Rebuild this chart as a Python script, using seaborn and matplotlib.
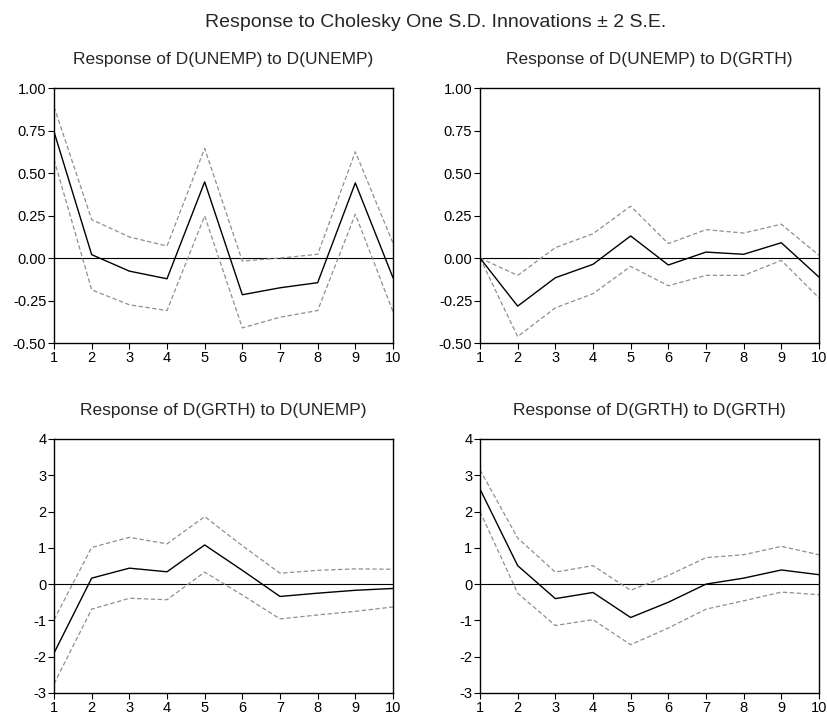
import numpy as np
import pandas as pd
import matplotlib
matplotlib.use("Agg")
import matplotlib.pyplot as plt
import seaborn as sns

sns.set_theme(style="ticks")
plt.rcParams["font.family"] = ["Liberation Sans", "DejaVu Sans"]

# ── Data ────────────────────────────────────────────────────────────────────
steps = list(range(1, 11))

unemp_unemp = [0.743, 0.020, -0.077, -0.122, 0.448, -0.216, -0.175, -0.145, 0.442, -0.116]
unemp_unemp_hi = [0.890, 0.226, 0.124, 0.071, 0.645, -0.018, 0.000, 0.022, 0.625, 0.088]
unemp_unemp_lo = [0.580, -0.187, -0.275, -0.309, 0.248, -0.411, -0.348, -0.309, 0.258, -0.315]

unemp_grth = [0.0, -0.283, -0.116, -0.037, 0.130, -0.041, 0.035, 0.022, 0.090, -0.112]
unemp_grth_hi = [0.0, -0.102, 0.061, 0.143, 0.305, 0.085, 0.167, 0.147, 0.199, 0.016]
unemp_grth_lo = [0.0, -0.462, -0.293, -0.210, -0.049, -0.163, -0.102, -0.102, -0.014, -0.234]

grth_unemp = [-1.90, 0.165, 0.44, 0.34, 1.08, 0.38, -0.34, -0.25, -0.17, -0.12]
grth_unemp_hi = [-0.98, 1.01, 1.29, 1.11, 1.86, 1.06, 0.30, 0.38, 0.42, 0.41]
grth_unemp_lo = [-2.75, -0.69, -0.39, -0.43, 0.33, -0.30, -0.96, -0.85, -0.75, -0.63]

grth_grth = [2.62, 0.51, -0.40, -0.23, -0.92, -0.50, 0.0, 0.165, 0.39, 0.26]
grth_grth_hi = [3.15, 1.27, 0.33, 0.51, -0.17, 0.24, 0.73, 0.81, 1.04, 0.81]
grth_grth_lo = [2.00, -0.25, -1.14, -0.98, -1.67, -1.21, -0.69, -0.46, -0.22, -0.29]

titles = [
    "Response of D(UNEMP) to D(UNEMP)",
    "Response of D(UNEMP) to D(GRTH)",
    "Response of D(GRTH) to D(UNEMP)",
    "Response of D(GRTH) to D(GRTH)",
]
yticks_unemp = [-0.50, -0.25, 0.00, 0.25, 0.50, 0.75, 1.00]
yticks_grth = [-3, -2, -1, 0, 1, 2, 3, 4]

panels = [
    (unemp_unemp, unemp_unemp_hi, unemp_unemp_lo, yticks_unemp, "%.2f"),
    (unemp_grth, unemp_grth_hi, unemp_grth_lo, yticks_unemp, "%.2f"),
    (grth_unemp, grth_unemp_hi, grth_unemp_lo, yticks_grth, "%d"),
    (grth_grth, grth_grth_hi, grth_grth_lo, yticks_grth, "%d"),
]

# ── Figure ──────────────────────────────────────────────────────────────────
fig = plt.figure(figsize=(8.27, 7.13), dpi=100)
positions = [
    [0.0653, 0.5189, 0.4099, 0.3576],
    [0.5804, 0.5189, 0.4099, 0.3576],
    [0.0653, 0.0281, 0.4099, 0.3562],
    [0.5804, 0.0281, 0.4099, 0.3562],
]

for pos, title, (mid, hi, lo, yt, fmt) in zip(positions, titles, panels):
    ax = fig.add_axes(pos)
    df = pd.DataFrame({"step": steps, "mid": mid, "hi": hi, "lo": lo})

    ax.axhline(0, color="black", lw=0.8, zorder=1)
    for col in ["hi", "lo"]:
        sns.lineplot(data=df, x="step", y=col, ax=ax, color="#8f8f8f",
                     lw=0.9, linestyle=(0, (3.5, 2)), zorder=2)
    sns.lineplot(data=df, x="step", y="mid", ax=ax, color="black", lw=1.0, zorder=3)

    ax.set_xlim(1, 10)
    ax.set_ylim(yt[0], yt[-1])
    ax.set_xticks(steps)
    ax.set_yticks(yt)
    ax.yaxis.set_major_formatter(matplotlib.ticker.FormatStrFormatter(fmt))
    ax.tick_params(axis="both", direction="out", length=4, width=0.8,
                   labelsize=10.5, pad=1.5, colors="black")
    ax.set_xlabel("")
    ax.set_ylabel("")
    for sp in ax.spines.values():
        sp.set_visible(True)
        sp.set_color("black")
        sp.set_linewidth(1.0)
    ax.set_title(title, fontsize=12.5, pad=17)

fig.text(0.527, 0.968, "Response to Cholesky One S.D. Innovations \u00b1 2 S.E.",
         ha="center", va="center", fontsize=14)

fig.savefig("out.png", dpi=100)
plt.close(fig)
